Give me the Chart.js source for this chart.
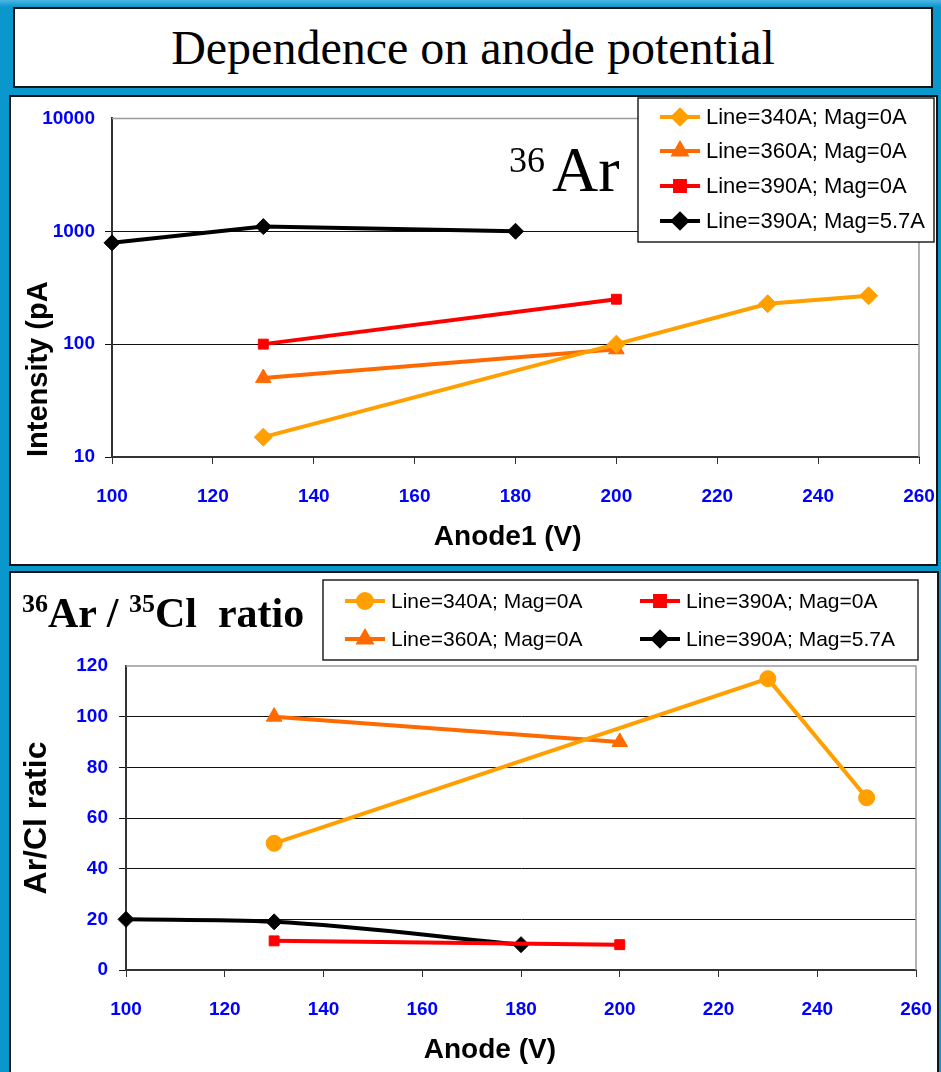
<!DOCTYPE html>
<html>
<head>
<meta charset="utf-8">
<script src="https://cdn.jsdelivr.net/npm/chart.js@4.4.0/dist/chart.umd.min.js"></script>
<style>
    body {
        margin: 0;
        width: 941px;
        height: 1072px;
        position: relative;
        overflow: hidden;
        background: linear-gradient(#4cb6e2 0px, #0a98cc 7px, #0a98cc 100%);
        font-family: "Liberation Sans", Arial, sans-serif;
    }
    .box {
        position: absolute;
        background: #fff;
        border: 2px solid #141414;
        box-sizing: border-box;
    }
    #titleBox { left: 13px; top: 7px; width: 920px; height: 81px; }
    #titleBox div {
        font-family: "Liberation Serif", "Times New Roman", serif;
        font-size: 48px;
        text-align: center;
        line-height: 77px;
        color: #000;
    }
    #topPanel { left: 9px; top: 95px; width: 929px; height: 471px; }
    #botPanel { left: 9px; top: 571px; width: 930px; height: 520px; }
    canvas { position: absolute; }
    #topChart { left: 10px; top: 97px; }
    #botChart { left: 10px; top: 572px; }
    .serif { position: absolute; font-family: "Liberation Serif", "Times New Roman", serif; color: #000; white-space: nowrap; line-height: 1; }
</style>
</head>
<body>
<div class="box" id="titleBox"><div>Dependence on anode potential</div></div>
<div class="box" id="topPanel"></div>
<div class="box" id="botPanel"></div>
<canvas id="topChart" width="927" height="466"></canvas>
<canvas id="botChart" width="927" height="500"></canvas>
<div class="serif" style="left:509px; top:142px; font-size:36px;">36</div>
<div class="serif" style="left:552px; top:138px; font-size:64px;">Ar</div>
<div class="serif" style="left:22px; top:592px; font-size:42px; font-weight:bold;"><span style="font-size:26px; position:relative; top:-15px;">36</span>Ar / <span style="font-size:26px; position:relative; top:-15px;">35</span>Cl&nbsp; ratio</div>

<script>
// Series labels (same four series in both charts)
const seriesLabels = ['Line=340A; Mag=0A', 'Line=360A; Mag=0A', 'Line=390A; Mag=0A', 'Line=390A; Mag=5.7A'];
const seriesColors = ['#ff9f00', '#ff6a00', '#ff0000', '#000000'];

// Top chart: 36Ar intensity (pA) vs Anode1 (V)
const topAnode340 = [130, 200, 230, 250];
const topInt340 = [15, 100, 228, 268];
const topAnode360 = [130, 200];
const topInt360 = [50, 90];
const topAnode390 = [130, 200];
const topInt390 = [100, 250];
const topAnodeMag = [100, 130, 180];
const topIntMag = [790, 1100, 1000];
const logTicks = [10, 100, 1000, 10000];

// Bottom chart: Ar/Cl ratio vs Anode (V)
const botAnode340 = [130, 230, 250];
const botRatio340 = [50, 115, 68];
const botAnode360 = [130, 200];
const botRatio360 = [100, 90];
const botAnode390 = [130, 200];
const botRatio390 = [11.5, 10];
const botAnodeMag = [100, 130, 180];
const botRatioMag = [20, 19, 10];
const ratioTicks = [0, 20, 40, 60, 80, 100, 120];

const anodeTicks = [100, 120, 140, 160, 180, 200, 220, 240, 260];

const FONT = '"Liberation Sans", Arial, sans-serif';

function pts(xs, ys) {
    return xs.map((x, i) => ({ x: x, y: ys[i] }));
}

// Legend drawn in a white box at a fixed spot inside the canvas
const boxLegend = {
    id: 'boxLegend',
    afterDraw(chart, args, opts) {
        const ctx = chart.ctx;
        ctx.save();
        ctx.fillStyle = '#fff';
        ctx.fillRect(opts.x, opts.y, opts.w, opts.h);
        ctx.strokeStyle = '#222';
        ctx.lineWidth = 1.5;
        ctx.strokeRect(opts.x, opts.y, opts.w, opts.h);
        opts.items.forEach(it => {
            const ds = chart.data.datasets[it.i];
            ctx.strokeStyle = ds.borderColor;
            ctx.lineWidth = 4;
            ctx.beginPath();
            ctx.moveTo(it.x - 20, it.y);
            ctx.lineTo(it.x + 20, it.y);
            ctx.stroke();
            ctx.fillStyle = ds.borderColor;
            Chart.helpers.drawPoint(ctx, {
                pointStyle: ds.pointStyle,
                radius: it.r || 7,
                rotation: 0,
                borderWidth: 1
            }, it.x, it.y);
            ctx.fillStyle = '#000';
            ctx.font = opts.fontSize + 'px ' + FONT;
            ctx.textBaseline = 'middle';
            ctx.textAlign = 'left';
            ctx.fillText(ds.label, it.x + 26, it.y + 1);
        });
        ctx.restore();
    }
};

// Grey frame on the top and right of the plot area
const plotFrame = {
    id: 'plotFrame',
    beforeDatasetsDraw(chart) {
        const { ctx, chartArea: a } = chart;
        ctx.save();
        ctx.strokeStyle = '#9a9a9a';
        ctx.lineWidth = 1.5;
        ctx.beginPath();
        ctx.moveTo(a.left, a.top);
        ctx.lineTo(a.right, a.top);
        ctx.lineTo(a.right, a.bottom);
        ctx.stroke();
        ctx.restore();
    }
};

function makeDataset(i, data, style, radius, extra) {
    return Object.assign({
        label: seriesLabels[i],
        data: data,
        borderColor: seriesColors[i],
        backgroundColor: seriesColors[i],
        pointStyle: style,
        pointRadius: radius,
        pointBorderWidth: 1,
        borderWidth: 4,
        tension: 0,
        clip: false
    }, extra || {});
}

function xAxis(title, titlePad, height) {
    return {
        type: 'linear',
        min: 100,
        max: 260,
        afterBuildTicks: s => { s.ticks = anodeTicks.map(v => ({ value: v })); },
        afterFit: s => { s.height = height; s.paddingLeft = 0; s.paddingRight = 0; },
        grid: { drawOnChartArea: false, color: '#333', tickLength: 7 },
        border: { color: '#333', width: 2 },
        ticks: { color: '#0000ff', padding: 21, font: { family: FONT, size: 19, weight: 'bold' }, maxRotation: 0 },
        title: { display: true, text: title, color: '#000', padding: { bottom: titlePad }, font: { family: FONT, size: 28, weight: 'bold' } }
    };
}

function yGrid(maxVal) {
    return {
        color: c => (c.tick && c.tick.value === maxVal) ? 'rgba(0,0,0,0)' : '#111',
        lineWidth: 1,
        tickLength: 7
    };
}

new Chart(document.getElementById('topChart'), {
    type: 'line',
    data: {
        datasets: [
            makeDataset(0, pts(topAnode340, topInt340), 'rectRot', 9),
            makeDataset(1, pts(topAnode360, topInt360), 'triangle', 9),
            makeDataset(2, pts(topAnode390, topInt390), 'rect', 7),
            makeDataset(3, pts(topAnodeMag, topIntMag), 'rectRot', 8)
        ]
    },
    options: {
        responsive: false,
        devicePixelRatio: 1,
        animation: false,
        layout: { padding: { left: 0, top: 21, right: 18, bottom: 0 } },
        plugins: {
            legend: { display: false },
            tooltip: { enabled: false },
            boxLegend: {
                x: 628, y: 1, w: 296, h: 144, fontSize: 22,
                items: [
                    { i: 0, x: 670, y: 20 },
                    { i: 1, x: 670, y: 54 },
                    { i: 2, x: 670, y: 89 },
                    { i: 3, x: 670, y: 124 }
                ]
            }
        },
        scales: {
            x: xAxis('Anode1 (V)  ', 9, 106),
            y: {
                type: 'logarithmic',
                min: 10,
                max: 10000,
                afterBuildTicks: s => { s.ticks = logTicks.map(v => ({ value: v, major: true })); },
                afterFit: s => { s.width = 102; },
                grid: yGrid(10000),
                border: { color: '#333', width: 2 },
                ticks: { color: '#0000ff', padding: 10, callback: v => String(v), font: { family: FONT, size: 19, weight: 'bold' } },
                title: { display: true, text: 'Intensity (pA', align: 'start', color: '#000', padding: { top: 12 }, font: { family: FONT, size: 29, weight: 'bold' } }
            }
        }
    },
    plugins: [plotFrame, boxLegend]
});

new Chart(document.getElementById('botChart'), {
    type: 'line',
    data: {
        datasets: [
            makeDataset(0, pts(botAnode340, botRatio340), 'circle', 8),
            makeDataset(1, pts(botAnode360, botRatio360), 'triangle', 9),
            makeDataset(2, pts(botAnode390, botRatio390), 'rect', 7),
            makeDataset(3, pts(botAnodeMag, botRatioMag), 'rectRot', 8, { cubicInterpolationMode: 'monotone' })
        ]
    },
    options: {
        responsive: false,
        devicePixelRatio: 1,
        animation: false,
        layout: { padding: { left: 0, top: 94, right: 21, bottom: 0 } },
        plugins: {
            legend: { display: false },
            tooltip: { enabled: false },
            boxLegend: {
                x: 313, y: 8, w: 595, h: 80, fontSize: 21,
                items: [
                    { i: 0, x: 355, y: 29 },
                    { i: 1, x: 355, y: 67 },
                    { i: 2, x: 650, y: 29 },
                    { i: 3, x: 650, y: 67 }
                ]
            }
        },
        scales: {
            x: xAxis('Anode (V)        ', 5, 102),
            y: {
                type: 'linear',
                min: 0,
                max: 120,
                afterBuildTicks: s => { s.ticks = ratioTicks.map(v => ({ value: v })); },
                afterFit: s => { s.width = 116; },
                grid: yGrid(120),
                border: { color: '#333', width: 2 },
                ticks: { color: '#0000ff', padding: 11, font: { family: FONT, size: 19, weight: 'bold' } },
                title: { display: true, text: 'Ar/Cl ratic', color: '#000', padding: { top: 8 }, font: { family: FONT, size: 32, weight: 'bold' } }
            }
        }
    },
    plugins: [plotFrame, boxLegend]
});
</script>
</body>
</html>
